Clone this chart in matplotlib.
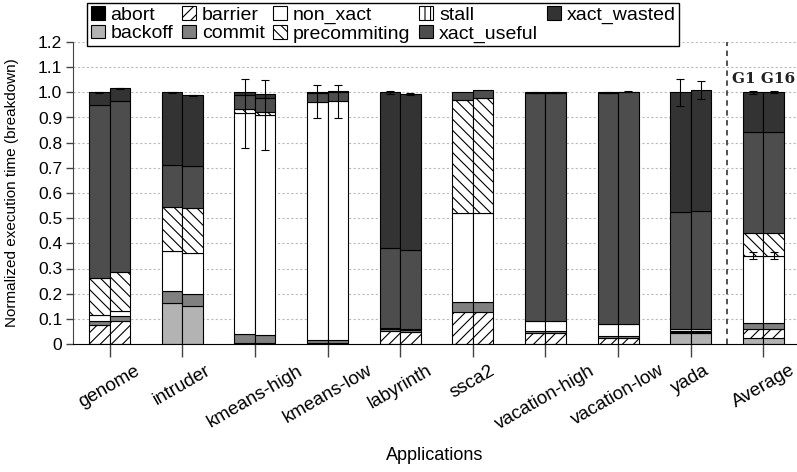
import matplotlib
matplotlib.use("Agg")
import matplotlib.pyplot as plt
from matplotlib.patches import Patch
import numpy as np

plt.rcParams["font.family"] = ["Liberation Sans", "DejaVu Sans"]
plt.rcParams["hatch.linewidth"] = 0.8

apps = ["genome", "intruder", "kmeans-high", "kmeans-low", "labyrinth",
        "ssca2", "vacation-high", "vacation-low", "yada", "Average"]

# Execution-time breakdown, left bar = 1 GPU (G1), right bar = 16 GPUs (G16)
backoff_g1 = [0.000, 0.162, 0.005, 0.002, 0.000, 0.000, 0.000, 0.000, 0.042, 0.023]
backoff_g16 = [0.000, 0.152, 0.005, 0.002, 0.000, 0.000, 0.000, 0.000, 0.042, 0.023]
barrier_g1 = [0.075, 0.000, 0.000, 0.000, 0.050, 0.126, 0.042, 0.025, 0.004, 0.035]
barrier_g16 = [0.091, 0.000, 0.000, 0.000, 0.046, 0.126, 0.042, 0.025, 0.004, 0.035]
commit_g1 = [0.018, 0.049, 0.033, 0.013, 0.008, 0.040, 0.008, 0.008, 0.006, 0.024]
commit_g16 = [0.019, 0.047, 0.029, 0.013, 0.008, 0.040, 0.008, 0.008, 0.006, 0.024]
non_xact_g1 = [0.021, 0.158, 0.879, 0.948, 0.007, 0.353, 0.043, 0.045, 0.006, 0.269]
non_xact_g16 = [0.020, 0.161, 0.876, 0.950, 0.005, 0.353, 0.043, 0.045, 0.006, 0.269]
precommiting_g1 = [0.150, 0.175, 0.015, 0.000, 0.000, 0.450, 0.000, 0.000, 0.000, 0.091]
precommiting_g16 = [0.155, 0.180, 0.013, 0.000, 0.000, 0.458, 0.000, 0.000, 0.000, 0.091]
stall_g1 = [0.0] * 10
stall_g16 = [0.0] * 10
xact_useful_g1 = [0.684, 0.166, 0.056, 0.035, 0.318, 0.031, 0.905, 0.920, 0.468, 0.399]
xact_useful_g16 = [0.682, 0.166, 0.053, 0.035, 0.316, 0.033, 0.905, 0.922, 0.470, 0.400]
xact_wasted_g1 = [0.052, 0.290, 0.012, 0.002, 0.617, 0.000, 0.002, 0.002, 0.474, 0.159]
xact_wasted_g16 = [0.049, 0.283, 0.017, 0.004, 0.618, 0.000, 0.002, 0.002, 0.482, 0.158]
abort_g1 = [0.0] * 10
abort_g16 = [0.0] * 10

# error bars: on the bar total, and on the top of the non_xact part
err_total_g1 = [0.003, 0.002, 0.000, 0.000, 0.006, 0.000, 0.002, 0.002, 0.053, 0.005]
err_total_g16 = [0.003, 0.002, 0.000, 0.000, 0.003, 0.000, 0.002, 0.002, 0.036, 0.004]
err_nonx_g1 = [0.000, 0.000, 0.137, 0.066, 0.000, 0.000, 0.000, 0.000, 0.000, 0.015]
err_nonx_g16 = [0.000, 0.000, 0.138, 0.065, 0.000, 0.000, 0.000, 0.000, 0.000, 0.015]

legend_order = ["abort", "backoff", "barrier", "commit", "non_xact",
                "precommiting", "stall", "xact_useful", "xact_wasted"]
stack_order = ["backoff", "barrier", "commit", "non_xact", "precommiting",
               "stall", "xact_useful", "xact_wasted", "abort"]

series = {
    "backoff": (backoff_g1, backoff_g16),
    "barrier": (barrier_g1, barrier_g16),
    "commit": (commit_g1, commit_g16),
    "non_xact": (non_xact_g1, non_xact_g16),
    "precommiting": (precommiting_g1, precommiting_g16),
    "stall": (stall_g1, stall_g16),
    "xact_useful": (xact_useful_g1, xact_useful_g16),
    "xact_wasted": (xact_wasted_g1, xact_wasted_g16),
    "abort": (abort_g1, abort_g16),
}
styles = {
    "abort": dict(facecolor="#000000", hatch=None),
    "backoff": dict(facecolor="#b3b3b3", hatch=None),
    "barrier": dict(facecolor="white", hatch="///"),
    "commit": dict(facecolor="#808080", hatch=None),
    "non_xact": dict(facecolor="white", hatch=None),
    "precommiting": dict(facecolor="white", hatch="\\\\\\"),
    "stall": dict(facecolor="white", hatch="|||"),
    "xact_useful": dict(facecolor="#4d4d4d", hatch=None),
    "xact_wasted": dict(facecolor="#333333", hatch=None),
}

W, H = 797, 472
fig = plt.figure(figsize=(W / 100, H / 100), dpi=100)
x_left_px, x0_px, step_px = 73.4, 109.7, 72.62
y0_px, ytop_px = 344, 42
ax = fig.add_axes([x_left_px / W, (H - y0_px) / H,
                   1 - x_left_px / W, (y0_px - ytop_px) / H])
ax.set_xlim(-0.5, (W - x0_px) / step_px)
ax.set_ylim(0, 1.2)

x = np.arange(len(apps))
bw = 0.282
offsets = (-bw / 2, bw / 2)
err_total = (err_total_g1, err_total_g16)
err_nonx = (err_nonx_g1, err_nonx_g16)

for k, off in enumerate(offsets):
    bottom = np.zeros(len(apps))
    nonx_top = None
    for comp in stack_order:
        vals = np.array(series[comp][k], dtype=float)
        mask = vals > 0
        if mask.any():
            st = styles[comp]
            ax.bar(x[mask] + off, vals[mask], bw, bottom=bottom[mask],
                   color=st["facecolor"], hatch=st["hatch"],
                   edgecolor="black", linewidth=0.8, zorder=2)
        bottom = bottom + vals
        if comp == "non_xact":
            nonx_top = bottom.copy()
    et = np.array(err_total[k])
    m = et > 0
    ax.errorbar(x[m] + off, bottom[m], yerr=et[m], fmt="none", ecolor="black",
                elinewidth=0.8, capsize=3, capthick=0.8, zorder=3)
    en = np.array(err_nonx[k])
    m = en > 0
    ax.errorbar(x[m] + off, nonx_top[m], yerr=en[m], fmt="none", ecolor="black",
                elinewidth=0.8, capsize=3, capthick=0.8, zorder=3)

# separator before the average group
ax.axvline(len(apps) - 1.5, color="#444444", lw=1.3, ls=(0, (3, 2.5)), zorder=1)
ax.text(len(apps) - 1, 1.038, "G1 G16", ha="center", va="baseline",
        family="DejaVu Serif", fontsize=11, fontweight="bold", color="#222222")

ax.set_yticks(np.round(np.arange(0, 1.21, 0.1), 1))
ax.set_yticklabels(["0"] + [f"{v:.1f}" for v in np.arange(0.1, 1.21, 0.1)],
                   fontsize=12.5)
ax.set_xticks(x)
ax.set_xticklabels(apps, rotation=30, ha="center", fontsize=13.5)
ax.tick_params(axis="x", length=9, width=1, color="#444444", pad=4)
ax.tick_params(axis="y", length=5, width=1, color="#444444", pad=3)

ax.yaxis.grid(True, ls=(0, (2, 2)), color="#bbbbbb", lw=0.8)
ax.set_axisbelow(True)
for s in ("top", "right"):
    ax.spines[s].set_visible(False)
ax.spines["left"].set_bounds(0, 1.2)
ax.spines["left"].set_color("#444444")

ax.set_ylabel("Normalized execution time (breakdown)", fontsize=11)
ax.yaxis.set_label_coords(-0.075, 0.5)
fig.text(435 / W, 1 - 455 / H, "Applications", ha="center", va="center",
         fontsize=13)

handles = [Patch(facecolor=styles[c]["facecolor"], hatch=styles[c]["hatch"],
                 edgecolor="black", linewidth=0.8) for c in legend_order]
fig.legend(handles, legend_order, loc="upper left",
           bbox_to_anchor=(87 / W, 1 - 3 / H), ncol=5, fontsize=14,
           frameon=True, fancybox=False, edgecolor="black", framealpha=1,
           handlelength=0.72, handleheight=0.72, handletextpad=0.3,
           columnspacing=0.45, borderpad=0.18, labelspacing=0.02,
           borderaxespad=0)

fig.savefig("out.png", dpi=100)
